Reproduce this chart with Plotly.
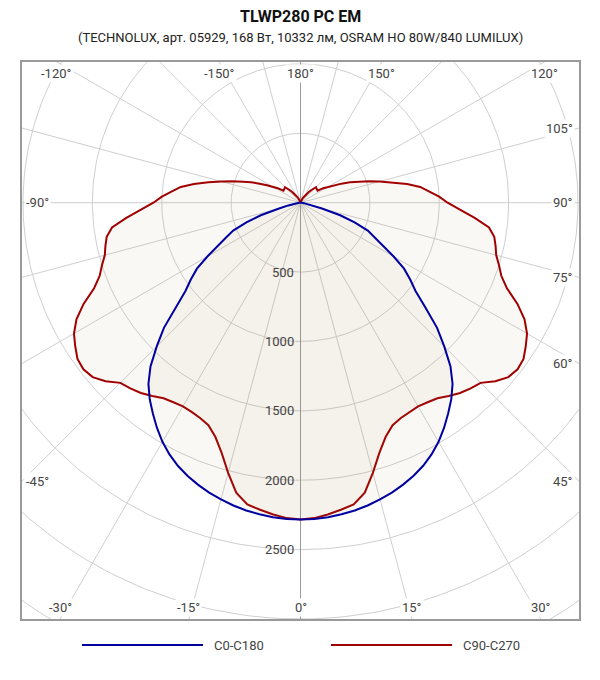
import numpy as np
import plotly.graph_objects as go

# luminous intensity, cd, gamma 0..180 step 2.5
gamma = [i * 2.5 for i in range(73)]
c0_c180 = [2283, 2281, 2275, 2265, 2252, 2235, 2213, 2190, 2162, 2130,
           2092, 2045, 1990, 1925, 1855, 1785, 1705, 1600, 1465, 1335,
           1175, 1045, 965, 885, 775, 665, 590, 525, 415, 300,
           160, 90, 50, 25, 12, 5, 0, 0, 0, 0,
           0, 0, 0, 0, 0, 0, 0, 0, 0, 0,
           0, 0, 0, 0, 0, 0, 0, 0, 0, 0,
           0, 0, 0, 0, 0, 0, 0, 0, 0, 0,
           0, 0, 0]
c90_c270 = [2283, 2275, 2255, 2232, 2208, 2140, 2015, 1890, 1795, 1735,
            1712, 1700, 1695, 1705, 1720, 1755, 1790, 1815, 1836, 1905,
            1955, 1972, 1962, 1925, 1885, 1820, 1725, 1610, 1540, 1500,
            1460, 1440, 1418, 1370, 1260, 1150, 1060, 1000, 930, 870,
            780, 680, 590, 515, 440, 385, 325, 272, 235, 195,
            150, 150, 152, 155, 158, 140, 115, 95, 78, 65,
            50, 40, 32, 25, 20, 15, 10, 7, 5, 3,
            2, 1, 0]

series_names = ["C0-C180", "C90-C270"]
series_colors = ["#0000a0", "#a00000"]

rings = [500, 1000, 1500, 2000, 2500, 3000, 3500]
ring_labels = [500, 1000, 1500, 2000, 2500]
spokes = list(range(-165, 181, 15))
spoke_labels = [-150, -120, -105, -90, -75, -60, -45, -30, -15, 0,
                15, 30, 45, 60, 75, 90, 105, 120, 150, 180]

X_RANGE = [-2007, 2007]
Y_RANGE = [-3000, 1014]
# page body has an 8px margin, so the figure sits at (8, 8) in the window
OFF = 8
L, R, T, B = 14, 13, 54, 53
W, H = 584, 664
PW, PH = W - L - R, H - T - B


def px_x(p):
    return (p - OFF - L) / PW


def px_y(p):
    return (H - B - (p - OFF)) / PH


def to_xy(values):
    # whole C-plane: one half on the right, the opposite half mirrored to the left
    g = np.radians(np.array(gamma, dtype=float))
    v = np.array(values, dtype=float)
    ang = np.concatenate([g, -g[::-1]])
    r = np.concatenate([v, v[::-1]])
    return r * np.sin(ang), -r * np.cos(ang)


fig = go.Figure()

# grid rings
t = np.radians(np.linspace(0, 360, 361))
for rr in rings:
    fig.add_trace(go.Scatter(x=rr * np.sin(t), y=rr * np.cos(t), mode="lines",
                             line=dict(color="#cfcfcf", width=1), hoverinfo="skip"))

# spokes
for a in spokes:
    ar = np.radians(a)
    col = "#9a9a9a" if a in (0, 180) else "#cfcfcf"
    fig.add_trace(go.Scatter(x=[0, 6000 * np.sin(ar)], y=[0, -6000 * np.cos(ar)], mode="lines",
                             line=dict(color=col, width=1), hoverinfo="skip"))

# curves
for vals, name, col in zip([c90_c270, c0_c180], series_names[::-1], series_colors[::-1]):
    x, y = to_xy(vals)
    fig.add_trace(go.Scatter(x=x, y=y, mode="lines", name=name, fill="toself",
                             fillcolor="rgba(175,140,80,0.06)",
                             line=dict(color=col, width=2), hoverinfo="skip"))

ann = []
tick_font = dict(family="Roboto", size=13, color="#444444")

# angle labels on the frame
for a in spoke_labels:
    ar = np.radians(a)
    dx, dy = np.sin(ar), -np.cos(ar)
    tx = (X_RANGE[1] if dx > 0 else X_RANGE[0]) / dx if abs(dx) > 1e-9 else np.inf
    ty = (Y_RANGE[1] if dy > 0 else Y_RANGE[0]) / dy if abs(dy) > 1e-9 else np.inf
    tt = min(tx, ty)
    d = dict(x=tt * dx, y=tt * dy, text=f"{a}°", showarrow=False, font=tick_font,
             bgcolor="white", borderpad=1)
    if tx < ty:
        if dx > 0:
            d.update(xanchor="right", yanchor="middle", xshift=-4)
        else:
            d.update(xanchor="left", yanchor="middle", xshift=2)
    else:
        if dy > 0:
            d.update(xanchor="center", yanchor="top", yshift=-2)
        else:
            d.update(xanchor="center", yanchor="bottom", yshift=2)
    ann.append(d)

# radial labels
for rr in ring_labels:
    ann.append(dict(x=0, y=-rr, text=str(rr), showarrow=False, font=tick_font,
                    xanchor="right", yanchor="middle", xshift=-5))

# titles
ann.append(dict(xref="paper", yref="paper", x=px_x(300), y=px_y(16), text="<b>TLWP280 PC EM</b>",
                showarrow=False, xanchor="center", yanchor="middle",
                font=dict(family="Roboto", size=16, color="#111111")))
ann.append(dict(xref="paper", yref="paper", x=px_x(300), y=px_y(38),
                text="(TECHNOLUX, арт. 05929, 168 Вт, 10332 лм, OSRAM HO 80W/840 LUMILUX)",
                showarrow=False, xanchor="center", yanchor="middle",
                font=dict(family="Roboto", size=13, color="#222222")))

# legend drawn by hand (long line samples)
shapes = []
leg_y = 645
for name, col, x0 in zip(series_names, series_colors, [82, 331]):
    shapes.append(dict(type="line", xref="paper", yref="paper", x0=px_x(x0), x1=px_x(x0 + 121),
                       y0=px_y(leg_y), y1=px_y(leg_y), line=dict(color=col, width=2)))
    ann.append(dict(xref="paper", yref="paper", x=px_x(x0 + 130), y=px_y(leg_y), text=name,
                    showarrow=False, xanchor="left", yanchor="middle", font=tick_font))

axis = dict(showgrid=False, zeroline=False, showticklabels=False, ticks="",
            showline=True, mirror=True, linecolor="#9a9a9a", linewidth=1.5)

fig.update_layout(
    width=W, height=H,
    margin=dict(l=L, r=R, t=T, b=B),
    paper_bgcolor="white", plot_bgcolor="white",
    showlegend=False, hovermode=False,
    xaxis=dict(range=X_RANGE, **axis),
    yaxis=dict(range=Y_RANGE, **axis),
    annotations=ann, shapes=shapes,
)

fig.write_html("out.html")
